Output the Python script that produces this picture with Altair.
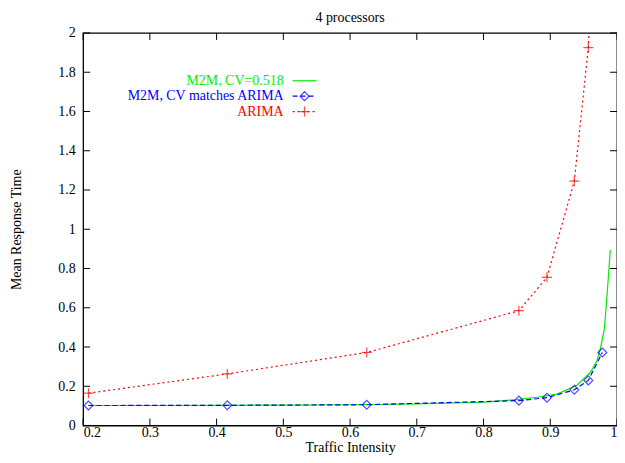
import altair as alt
import pandas as pd

# ---- data ----
rho = [0.208, 0.416, 0.625, 0.853, 0.895, 0.936, 0.957, 0.978]
arima = [0.165, 0.263, 0.372, 0.585, 0.755, 1.245, 1.925, 3.6]
m2m_match = [0.102, 0.103, 0.106, 0.127, 0.142, 0.182, 0.230, 0.372]

green_x = [0.208, 0.3, 0.4, 0.5, 0.6, 0.7, 0.8, 0.85, 0.88, 0.91, 0.94,
           0.96, 0.97, 0.975, 0.981, 0.985, 0.99]
green_y = [0.102, 0.102, 0.103, 0.104, 0.106, 0.110, 0.119, 0.132, 0.144,
           0.160, 0.205, 0.27, 0.33, 0.39, 0.49, 0.66, 0.895]

x_ticks = [0.2, 0.3, 0.4, 0.5, 0.6, 0.7, 0.8, 0.9, 1.0]
y_ticks = [0, 0.2, 0.4, 0.6, 0.8, 1.0, 1.2, 1.4, 1.6, 1.8, 2.0]

chart_title = "4 processors"
legend_labels = ["M2M, CV=0.518", "M2M, CV matches ARIMA", "ARIMA"]
legend_colors = ["#00ee00", "#0000ff", "#ff0000"]

W, H = 536.5, 394.5
FONT = "Liberation Serif"
TL = 7  # inward tick length

df_green = pd.DataFrame({"x": green_x, "y": green_y})
df_blue = pd.DataFrame({"x": rho, "y": m2m_match})
df_red = pd.DataFrame({"x": rho, "y": arima})
df_xt = pd.DataFrame({"x": x_ticks})
df_yt = pd.DataFrame({"y": y_ticks})

xs = alt.Scale(domain=[0.2, 1.0], nice=False, zero=False)
ys = alt.Scale(domain=[0, 2], nice=False)

X = alt.X("x:Q", scale=xs, title="Traffic Intensity",
          axis=alt.Axis(values=x_ticks, ticks=False, domain=False, grid=False,
                        labelPadding=0, titleBaseline="alphabetic", titleY=26.5,
                        format="~g"))
Y = alt.Y("y:Q", scale=ys, title="Mean Response Time",
          axis=alt.Axis(values=y_ticks, ticks=False, domain=False, grid=False,
                        labelPadding=8, titlePadding=34, format="~g"))

PLUS = "M-1,0L1,0M0,-1L0,1"

green = alt.Chart(df_green).mark_line(color=legend_colors[0], strokeWidth=1.2, clip=True).encode(x=X, y=Y)
blue_line = alt.Chart(df_blue).mark_line(color=legend_colors[1], strokeWidth=1.2,
                                         strokeDash=[5, 3], clip=True).encode(x=X, y=Y)
blue_pts = alt.Chart(df_blue).mark_point(shape="diamond", filled=False, size=80,
                                         color=legend_colors[1], strokeWidth=1.2, clip=True).encode(x=X, y=Y)
red_line = alt.Chart(df_red).mark_line(color=legend_colors[2], strokeWidth=1.2,
                                       strokeDash=[2, 3], clip=True).encode(x=X, y=Y)
red_pts = alt.Chart(df_red).mark_point(shape=PLUS, filled=False, size=100,
                                       color=legend_colors[2], strokeWidth=1.2, clip=True).encode(x=X, y=Y)

# inward ticks on all four sides
xt_b = alt.Chart(df_xt).mark_rule(color="black", strokeWidth=1).encode(
    x=X, y=alt.value(H), y2=alt.value(H - TL))
xt_t = alt.Chart(df_xt).mark_rule(color="black", strokeWidth=1).encode(
    x=X, y=alt.value(0), y2=alt.value(TL))
yt_l = alt.Chart(df_yt).mark_rule(color="black", strokeWidth=1).encode(
    y=Y, x=alt.value(0), x2=alt.value(TL))
yt_r = alt.Chart(df_yt).mark_rule(color="black", strokeWidth=1).encode(
    y=Y, x=alt.value(W), x2=alt.value(W - TL))

# chart title as a text mark above the frame
title_mark = alt.Chart(pd.DataFrame({"t": [chart_title]})).mark_text(
    align="center", baseline="alphabetic", font=FONT, fontSize=14, color="black"
).encode(text="t:N", x=alt.value(W / 2), y=alt.value(-11))

# manual legend (label right-aligned, sample to the right)
TX = 201.5
S0, S1 = 210.5, 234.5
ROWS = [48, 63.5, 79]
leg = []
for i, lab in enumerate(legend_labels):
    leg.append(alt.Chart(pd.DataFrame({"t": [lab]})).mark_text(
        align="right", baseline="middle", font=FONT, fontSize=14, color=legend_colors[i]
    ).encode(text="t:N", x=alt.value(TX), y=alt.value(ROWS[i])))
leg.append(alt.Chart(pd.DataFrame({"t": [0]})).mark_rule(color=legend_colors[0], strokeWidth=1.2).encode(
    x=alt.value(S0), x2=alt.value(S1), y=alt.value(ROWS[0])))
leg.append(alt.Chart(pd.DataFrame({"t": [0]})).mark_rule(color=legend_colors[1], strokeWidth=1.2,
                                                         strokeDash=[5, 3]).encode(
    x=alt.value(S0), x2=alt.value(S1), y=alt.value(ROWS[1])))
leg.append(alt.Chart(pd.DataFrame({"t": [0]})).mark_point(shape="diamond", filled=False, size=80,
                                                          color=legend_colors[1], strokeWidth=1.2).encode(
    x=alt.value((S0 + S1) / 2), y=alt.value(ROWS[1])))
leg.append(alt.Chart(pd.DataFrame({"t": [0]})).mark_rule(color=legend_colors[2], strokeWidth=1.2,
                                                         strokeDash=[2, 3]).encode(
    x=alt.value(S0), x2=alt.value(S1), y=alt.value(ROWS[2])))
leg.append(alt.Chart(pd.DataFrame({"t": [0]})).mark_point(shape=PLUS, filled=False, size=100,
                                                          color=legend_colors[2], strokeWidth=1.2).encode(
    x=alt.value((S0 + S1) / 2), y=alt.value(ROWS[2])))

chart = alt.layer(
    green, blue_line, blue_pts, red_line, red_pts, xt_b, xt_t, yt_l, yt_r, title_mark, *leg
).properties(
    width=W, height=H,
    background="white",
    autosize=alt.AutoSizeParams(type="none"),
    padding={"left": 75.5, "top": 24, "right": 0, "bottom": 28.5},
).configure_view(
    stroke="black", strokeWidth=1.3
).configure_axis(
    labelFont=FONT, labelFontSize=14, labelColor="black",
    titleFont=FONT, titleFontSize=14, titleFontWeight="normal", titleColor="black",
)

chart.save("out.html", embed_options={"renderer": "svg", "actions": False})
